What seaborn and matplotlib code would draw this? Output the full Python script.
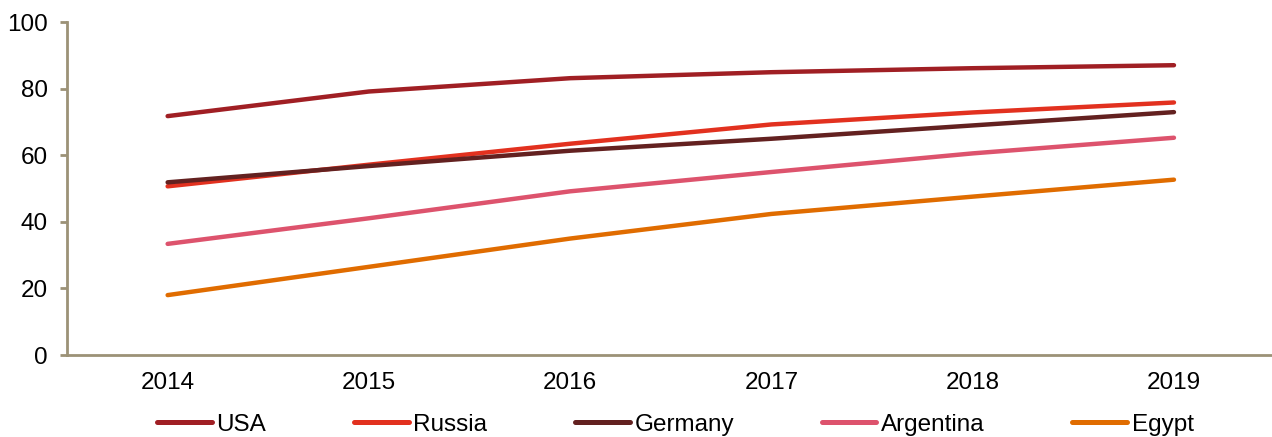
import matplotlib
matplotlib.use("Agg")
import matplotlib.pyplot as plt
import seaborn as sns
import pandas as pd

years = ["2014", "2015", "2016", "2017", "2018", "2019"]
usa = [71.8, 79.2, 83.2, 85.0, 86.2, 87.1]
russia = [50.7, 57.2, 63.5, 69.3, 72.9, 75.9]
germany = [51.9, 56.8, 61.4, 65.0, 69.0, 73.0]
argentina = [33.4, 41.1, 49.2, 55.0, 60.6, 65.3]
egypt = [18.0, 26.5, 35.0, 42.4, 47.6, 52.7]

series_names = ["USA", "Russia", "Germany", "Argentina", "Egypt"]
series_values = [usa, russia, germany, argentina, egypt]
colors = ["#A01F24", "#E2311F", "#632120", "#DD536D", "#E06C00"]

rows = []
for name, vals in zip(series_names, series_values):
    for i, (y, v) in enumerate(zip(years, vals)):
        rows.append({"Year": y, "x": i, "Country": name, "Value": v})
df = pd.DataFrame(rows)

sns.set_theme(style="white")
plt.rcParams["font.family"] = ["Liberation Sans", "DejaVu Sans"]
plt.rcParams["text.color"] = "black"

fig = plt.figure(figsize=(12.72, 4.37), dpi=100)
ax = fig.add_axes([67 / 1272, 1 - 355 / 437, (1274.6 - 67) / 1272, (355 - 22.3) / 437])

sns.lineplot(data=df, x="x", y="Value", hue="Country", hue_order=series_names,
             palette=colors, linewidth=3.2, ax=ax, legend=False,
             solid_capstyle="round")

axis_color = "#9C9277"
ax.set_xlim(-0.5, 5.5)
ax.set_ylim(0, 100)
ax.set_yticks([0, 20, 40, 60, 80, 100])
ax.set_xticks(range(len(years)))
ax.set_xticklabels(years)
ax.set_xlabel("")
ax.set_ylabel("")
for s in ["top", "right"]:
    ax.spines[s].set_visible(False)
for s in ["left", "bottom"]:
    ax.spines[s].set_color(axis_color)
    ax.spines[s].set_linewidth(2)
ax.tick_params(axis="y", direction="out", length=5, width=2, color=axis_color,
               labelsize=17.5, pad=9, left=True, labelcolor="black")
ax.tick_params(axis="x", length=0, labelsize=17.5, pad=12, labelcolor="black")

handles = [plt.Line2D([0], [0], color=c, linewidth=3.6, solid_capstyle="round")
           for c in colors]
fig.legend(handles, series_names, loc="center", bbox_to_anchor=(0.531, 0.028),
           ncol=5, frameon=False, fontsize=17.5, handlelength=2.25,
           handletextpad=0.2, columnspacing=3.6, borderaxespad=0,
           labelcolor="black")

fig.savefig("out.png", dpi=100)
